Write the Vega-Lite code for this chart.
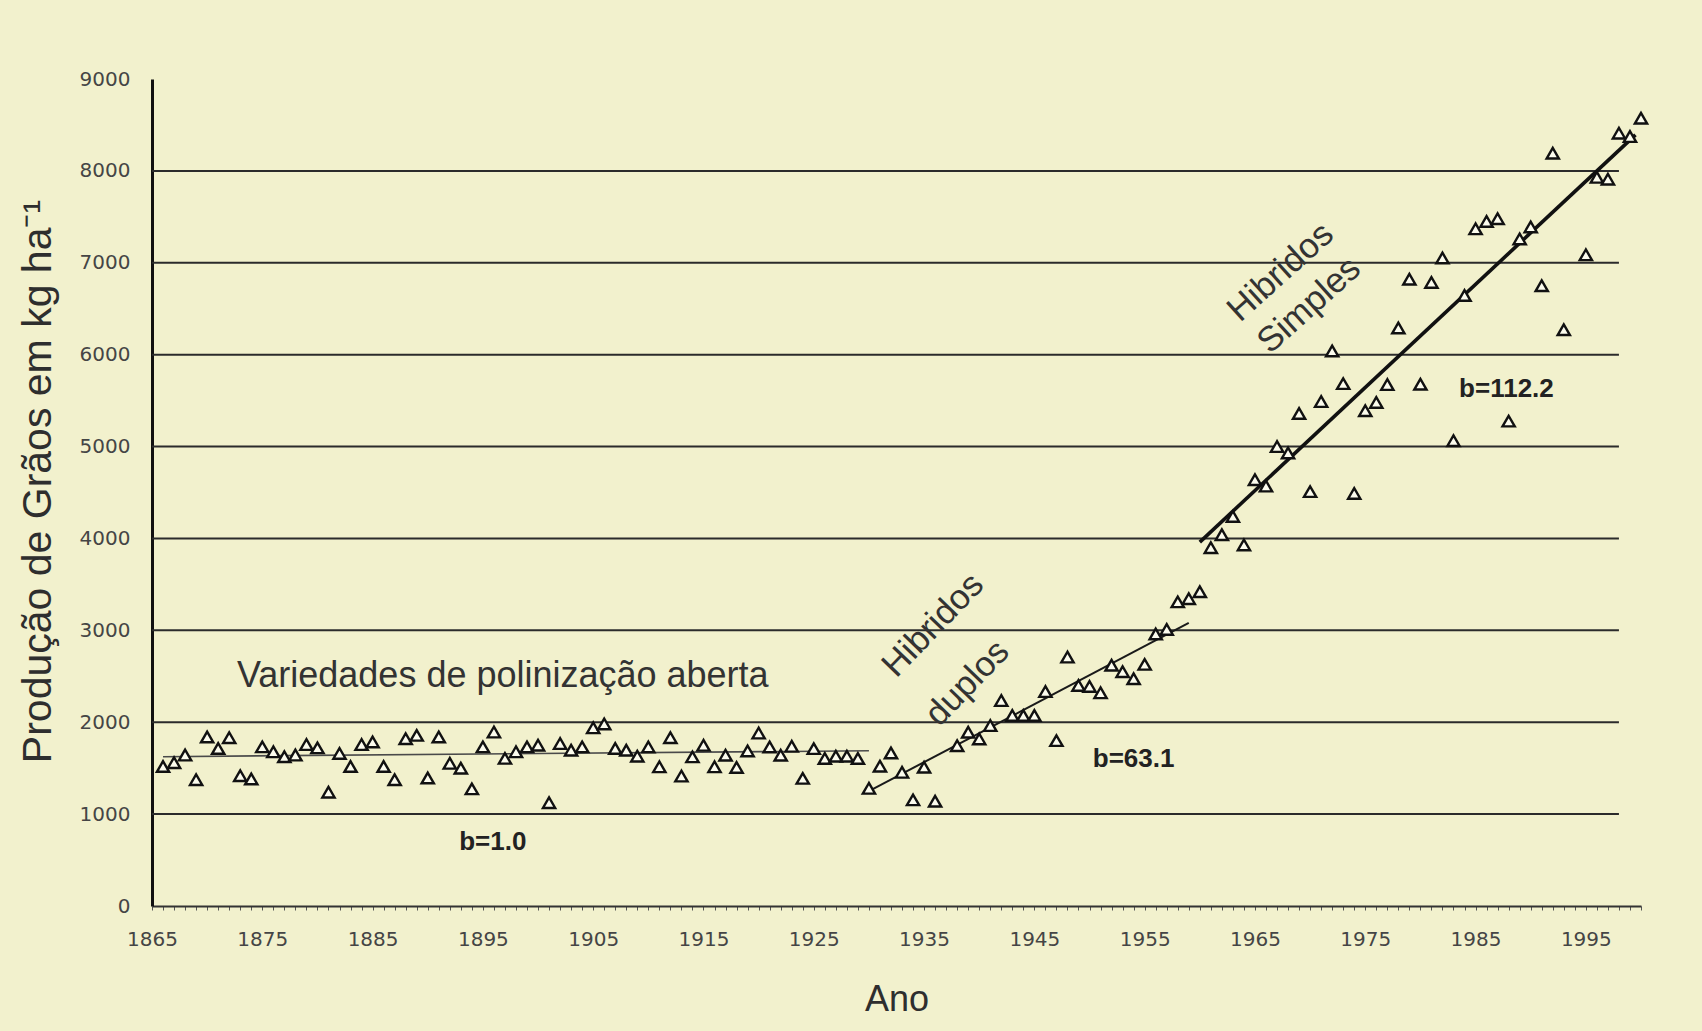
{
  "$schema": "https://vega.github.io/schema/vega-lite/v6.json",
  "width": 1489,
  "height": 827,
  "autosize": {"type": "none"},
  "padding": {"left": 152, "top": 79, "right": 61, "bottom": 125},
  "background": "#F2F1CD",
  "config": {
    "view": {"stroke": null},
    "font": "Liberation Sans",
    "axis": {"labelFont": "DejaVu Sans", "labelFontSize": 20, "labelColor": "#454545", "grid": false}
  },
  "datasets": {
    "producao": [
      {"ano": 1866, "valor": 1518}, {"ano": 1867, "valor": 1560}, {"ano": 1868, "valor": 1643},
      {"ano": 1869, "valor": 1375}, {"ano": 1870, "valor": 1839}, {"ano": 1871, "valor": 1714},
      {"ano": 1872, "valor": 1832}, {"ano": 1873, "valor": 1418}, {"ano": 1874, "valor": 1382},
      {"ano": 1875, "valor": 1732}, {"ano": 1876, "valor": 1678}, {"ano": 1877, "valor": 1625},
      {"ano": 1878, "valor": 1643}, {"ano": 1879, "valor": 1757}, {"ano": 1880, "valor": 1721},
      {"ano": 1881, "valor": 1239}, {"ano": 1882, "valor": 1661}, {"ano": 1883, "valor": 1518},
      {"ano": 1884, "valor": 1757}, {"ano": 1885, "valor": 1786}, {"ano": 1886, "valor": 1518},
      {"ano": 1887, "valor": 1375}, {"ano": 1888, "valor": 1821}, {"ano": 1889, "valor": 1857},
      {"ano": 1890, "valor": 1393}, {"ano": 1891, "valor": 1839}, {"ano": 1892, "valor": 1553},
      {"ano": 1893, "valor": 1500}, {"ano": 1894, "valor": 1275}, {"ano": 1895, "valor": 1732},
      {"ano": 1896, "valor": 1893}, {"ano": 1897, "valor": 1607}, {"ano": 1898, "valor": 1678},
      {"ano": 1899, "valor": 1732}, {"ano": 1900, "valor": 1750}, {"ano": 1901, "valor": 1125},
      {"ano": 1902, "valor": 1768}, {"ano": 1903, "valor": 1696}, {"ano": 1904, "valor": 1732},
      {"ano": 1905, "valor": 1939}, {"ano": 1906, "valor": 1982}, {"ano": 1907, "valor": 1714},
      {"ano": 1908, "valor": 1695}, {"ano": 1909, "valor": 1630}, {"ano": 1910, "valor": 1731},
      {"ano": 1911, "valor": 1515}, {"ano": 1912, "valor": 1832}, {"ano": 1913, "valor": 1414},
      {"ano": 1914, "valor": 1623}, {"ano": 1915, "valor": 1749}, {"ano": 1916, "valor": 1515},
      {"ano": 1917, "valor": 1641}, {"ano": 1918, "valor": 1508}, {"ano": 1919, "valor": 1688},
      {"ano": 1920, "valor": 1882}, {"ano": 1921, "valor": 1731}, {"ano": 1922, "valor": 1641},
      {"ano": 1923, "valor": 1738}, {"ano": 1924, "valor": 1389}, {"ano": 1925, "valor": 1713},
      {"ano": 1926, "valor": 1605}, {"ano": 1927, "valor": 1630}, {"ano": 1928, "valor": 1630},
      {"ano": 1929, "valor": 1605}, {"ano": 1930, "valor": 1281}, {"ano": 1931, "valor": 1522},
      {"ano": 1932, "valor": 1665}, {"ano": 1933, "valor": 1455}, {"ano": 1934, "valor": 1155},
      {"ano": 1935, "valor": 1510}, {"ano": 1936, "valor": 1140}, {"ano": 1938, "valor": 1745},
      {"ano": 1939, "valor": 1891}, {"ano": 1940, "valor": 1818}, {"ano": 1941, "valor": 1964},
      {"ano": 1942, "valor": 2236}, {"ano": 1943, "valor": 2073}, {"ano": 1944, "valor": 2073},
      {"ano": 1945, "valor": 2073}, {"ano": 1946, "valor": 2334}, {"ano": 1947, "valor": 1800},
      {"ano": 1948, "valor": 2709}, {"ano": 1949, "valor": 2400}, {"ano": 1950, "valor": 2390},
      {"ano": 1951, "valor": 2320}, {"ano": 1952, "valor": 2620}, {"ano": 1953, "valor": 2550},
      {"ano": 1954, "valor": 2473}, {"ano": 1955, "valor": 2630}, {"ano": 1956, "valor": 2960},
      {"ano": 1957, "valor": 3010}, {"ano": 1958, "valor": 3310}, {"ano": 1959, "valor": 3345},
      {"ano": 1960, "valor": 3420}, {"ano": 1961, "valor": 3900}, {"ano": 1962, "valor": 4040},
      {"ano": 1963, "valor": 4240}, {"ano": 1964, "valor": 3930}, {"ano": 1965, "valor": 4640},
      {"ano": 1966, "valor": 4570}, {"ano": 1967, "valor": 5000}, {"ano": 1968, "valor": 4930},
      {"ano": 1969, "valor": 5360}, {"ano": 1970, "valor": 4510}, {"ano": 1971, "valor": 5490},
      {"ano": 1972, "valor": 6040}, {"ano": 1973, "valor": 5685}, {"ano": 1974, "valor": 4490},
      {"ano": 1975, "valor": 5390}, {"ano": 1976, "valor": 5480}, {"ano": 1977, "valor": 5675},
      {"ano": 1978, "valor": 6290}, {"ano": 1979, "valor": 6821}, {"ano": 1980, "valor": 5678},
      {"ano": 1981, "valor": 6786}, {"ano": 1982, "valor": 7052}, {"ano": 1983, "valor": 5064},
      {"ano": 1984, "valor": 6644}, {"ano": 1985, "valor": 7370}, {"ano": 1986, "valor": 7450},
      {"ano": 1987, "valor": 7480}, {"ano": 1988, "valor": 5277}, {"ano": 1989, "valor": 7260},
      {"ano": 1990, "valor": 7390}, {"ano": 1991, "valor": 6750}, {"ano": 1992, "valor": 8192},
      {"ano": 1993, "valor": 6271}, {"ano": 1995, "valor": 7087}, {"ano": 1996, "valor": 7930},
      {"ano": 1997, "valor": 7910}, {"ano": 1998, "valor": 8410}, {"ano": 1999, "valor": 8374},
      {"ano": 2000, "valor": 8573}
    ],
    "reta_variedades": [
      {"ano": 1866, "valor": 1625},
      {"ano": 1930, "valor": 1689}
    ],
    "reta_duplos": [
      {"ano": 1930, "valor": 1250},
      {"ano": 1959, "valor": 3080}
    ],
    "reta_simples": [
      {"ano": 1960, "valor": 3960},
      {"ano": 1999.5, "valor": 8392}
    ],
    "grade": [
      {"valor": 1000}, {"valor": 2000}, {"valor": 3000}, {"valor": 4000},
      {"valor": 5000}, {"valor": 6000}, {"valor": 7000}, {"valor": 8000}
    ],
    "coeficientes": [
      {"texto": "b=1.0", "ano": 1895.9, "valor": 609},
      {"texto": "b=63.1", "ano": 1954.0, "valor": 1516},
      {"texto": "b=112.2", "ano": 1987.8, "valor": 5542}
    ],
    "periodo": [
      {"texto": "Variedades de polinização aberta", "ano": 1872.7, "valor": 2383}
    ],
    "duplos": [
      {"texto": "Hibridos", "ano": 1935.8, "valor": 3058},
      {"texto": "duplos", "ano": 1938.9, "valor": 2427}
    ],
    "simples": [
      {"texto": "Hibridos", "ano": 1967.3, "valor": 6902},
      {"texto": "Simples", "ano": 1969.9, "valor": 6540}
    ]
  },
  "layer": [
    {
      "data": {"name": "grade"},
      "mark": {"type": "rule", "color": "#2b2b2b", "strokeWidth": 2},
      "encoding": {
        "x": {
          "datum": 1865,
          "type": "quantitative",
          "scale": {"domain": [1865, 2000], "nice": false, "zero": false},
          "axis": {
            "title": "Ano",
            "titleFont": "Liberation Sans",
            "titleFontSize": 36,
            "titleFontWeight": "normal",
            "titleColor": "#2e2e2e",
            "titleBaseline": "alphabetic",
            "titleY": 104,
            "tickCount": 135,
            "format": "d",
            "labelExpr": "(datum.value - 1865) % 10 == 0 && datum.value < 2000 ? datum.label : ''",
            "labelOverlap": false,
            "labelFlush": false,
            "labelPadding": 19,
            "tickSize": 4,
            "tickColor": "#555555",
            "tickWidth": 1,
            "domainColor": "#333333",
            "domainWidth": 2
          }
        },
        "x2": {"datum": 1998},
        "y": {
          "field": "valor",
          "type": "quantitative",
          "scale": {"domain": [0, 9000], "nice": false},
          "axis": {
            "title": "Produção de Grãos em kg ha⁻¹",
            "titleFont": "Liberation Sans",
            "titleFontSize": 41,
            "titleFontWeight": "normal",
            "titleColor": "#2e2e2e",
            "titleAngle": -90,
            "titleAlign": "center",
            "titleBaseline": "alphabetic",
            "titleX": -102,
            "titleY": 402,
            "values": [0, 1000, 2000, 3000, 4000, 5000, 6000, 7000, 8000, 9000],
            "format": "d",
            "ticks": false,
            "labelPadding": 22,
            "domainColor": "#111111",
            "domainWidth": 3
          }
        }
      }
    },
    {
      "data": {"name": "reta_variedades"},
      "mark": {"type": "line", "color": "#4a4a4a", "strokeWidth": 1.6},
      "encoding": {
        "x": {"field": "ano", "type": "quantitative"},
        "y": {"field": "valor", "type": "quantitative"}
      }
    },
    {
      "data": {"name": "reta_duplos"},
      "mark": {"type": "line", "color": "#1a1a1a", "strokeWidth": 2},
      "encoding": {
        "x": {"field": "ano", "type": "quantitative"},
        "y": {"field": "valor", "type": "quantitative"}
      }
    },
    {
      "data": {"name": "reta_simples"},
      "mark": {"type": "line", "color": "#111111", "strokeWidth": 3.6},
      "encoding": {
        "x": {"field": "ano", "type": "quantitative"},
        "y": {"field": "valor", "type": "quantitative"}
      }
    },
    {
      "data": {"name": "producao"},
      "mark": {"type": "point", "shape": "triangle-up", "filled": false, "fill": "#fcfcee", "fillOpacity": 1, "stroke": "#111111", "strokeWidth": 2.4, "size": 150, "opacity": 1},
      "encoding": {
        "x": {"field": "ano", "type": "quantitative"},
        "y": {"field": "valor", "type": "quantitative"}
      }
    },
    {
      "data": {"name": "coeficientes"},
      "mark": {"type": "text", "font": "Liberation Sans", "fontWeight": "bold", "fontSize": 26, "color": "#222222", "align": "center", "baseline": "alphabetic"},
      "encoding": {
        "x": {"field": "ano", "type": "quantitative"},
        "y": {"field": "valor", "type": "quantitative"},
        "text": {"field": "texto"}
      }
    },
    {
      "data": {"name": "periodo"},
      "mark": {"type": "text", "font": "Liberation Sans", "fontSize": 36, "color": "#333333", "align": "left", "baseline": "alphabetic"},
      "encoding": {
        "x": {"field": "ano", "type": "quantitative"},
        "y": {"field": "valor", "type": "quantitative"},
        "text": {"field": "texto"}
      }
    },
    {
      "data": {"name": "duplos"},
      "mark": {"type": "text", "font": "Liberation Sans", "fontSize": 35, "color": "#333333", "align": "center", "baseline": "middle", "angle": -46},
      "encoding": {
        "x": {"field": "ano", "type": "quantitative"},
        "y": {"field": "valor", "type": "quantitative"},
        "text": {"field": "texto"}
      }
    },
    {
      "data": {"name": "simples"},
      "mark": {"type": "text", "font": "Liberation Sans", "fontSize": 35, "color": "#333333", "align": "center", "baseline": "middle", "angle": -42},
      "encoding": {
        "x": {"field": "ano", "type": "quantitative"},
        "y": {"field": "valor", "type": "quantitative"},
        "text": {"field": "texto"}
      }
    }
  ]
}
